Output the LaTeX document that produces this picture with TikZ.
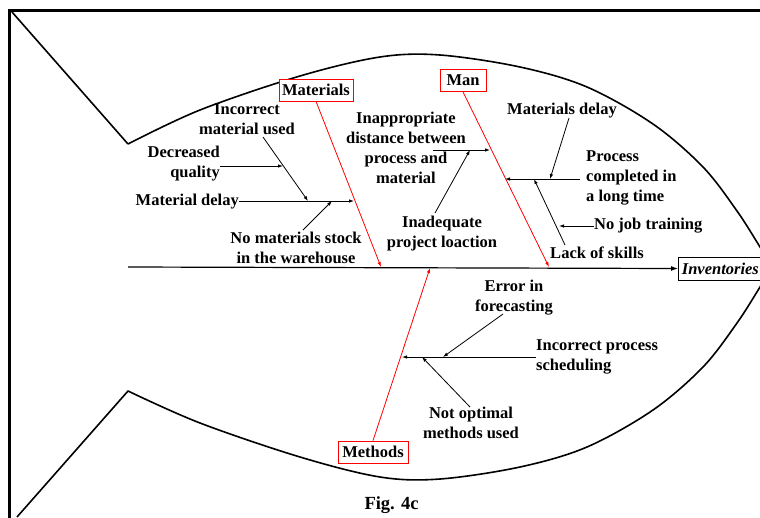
\documentclass[tikz,border=0pt]{standalone}
\usepackage{fontspec}
\setmainfont{Liberation Serif}
\usetikzlibrary{arrows.meta}
\begin{document}
\begin{tikzpicture}[x=1pt,y=-1pt,
  lbl/.style={font=\fontsize{16.5}{20}\selectfont\bfseries, inner sep=0pt, align=center},
  cat/.style={lbl, draw=red, line width=0.8pt, minimum height=22pt, fill=white},
  br/.style={line width=0.8pt, -{Latex[length=5pt,width=3.5pt]}},
  rb/.style={red, line width=0.8pt, -{Latex[length=5pt,width=3.5pt]}},
  outline/.style={line width=1.6pt, line join=round}
]
\useasboundingbox (0,0) rectangle (760,517);
\fill[white] (0,0) rectangle (760,517);
\clip (0,0) rectangle (760,517);
% frame
\draw[line width=3pt] (770,10.5) -- (9.5,10.5) -- (9.5,530);
% fish outline
\draw[outline] (12,12) -- (128,144)
  plot[smooth, tension=0.55] coordinates {(128,144) (200,110) (300,76) (380,57) (440,55) (520,67) (587,87) (653,124) (703,167) (737,211) (760,247) (772,267) (760,287) (737,323) (703,367) (653,410) (587,447) (520,467) (440,479) (380,477) (300,457) (200,423) (128,391)}
  -- (17,517);
% category boxes and effect
\node[cat, minimum width=74pt] (mat) at (316,90) {Materials};
\node[cat, minimum width=46pt] (man) at (463,80.5) {Man};
\node[cat, minimum width=70pt] (meth) at (373,452) {Methods};
\node[lbl, draw, line width=0.8pt, fill=white, anchor=west, minimum height=23pt, minimum width=84pt, font=\fontsize{16.5}{20}\selectfont\bfseries\itshape] (inv) at (678,268.5) {Inventories};
% labels
\node[lbl] (incm) at (247,119) {Incorrect\\material used};
\node[lbl, align=right, anchor=east] (decq) at (220,164) {Decreased\\quality};
\node[lbl, anchor=east] (matd) at (239,202) {Material delay};
\node[lbl] (nostock) at (296,248) {No materials stock\\in the warehouse};
\node[lbl] (inap) at (406,148) {Inappropriate\\distance between\\process and\\material};
\node[lbl] (inad) at (442,234) {Inadequate\\project loaction};
\node[lbl] (matsd) at (562,111) {Materials delay};
\node[lbl, align=left, anchor=west] (proc) at (586,178) {Process\\completed in\\a long time};
\node[lbl, anchor=west] (nojob) at (594,226) {No job training};
\node[lbl] (lack) at (597,253) {Lack of skills};
\node[lbl] (err) at (514,298) {Error in\\forecasting};
\node[lbl, align=left, anchor=west] (incp) at (536,357) {Incorrect process\\scheduling};
\node[lbl] (notopt) at (471,423) {Not optimal\\methods used};
\node[lbl, font=\fontsize{18.5}{22}\selectfont\bfseries] (fig) at (391.5,505) {Fig. 4c};
% coordinates
\coordinate (spS) at (128,267);
\coordinate (mS) at (381,267);
\coordinate (mD1) at (239,201);
\coordinate (mD) at (354,201);
\coordinate (mQ1) at (220,166);
\coordinate (mQ2) at (283,166);
\coordinate (mI1) at (263,137);
\coordinate (mI2) at (308,201);
\coordinate (mN1) at (303,230);
\coordinate (mN2) at (332,201);
\coordinate (nS) at (549,267);
\coordinate (nA1) at (433,150);
\coordinate (nA2) at (490,150);
\coordinate (nI1) at (435,213);
\coordinate (nI2) at (470,150);
\coordinate (nP1) at (580,179);
\coordinate (nP2) at (505,179);
\coordinate (nM1) at (569,118);
\coordinate (nM2) at (550,179);
\coordinate (nL1) at (565,245);
\coordinate (nL2) at (534,179);
\coordinate (nJ2) at (559,226);
\coordinate (tS) at (430,268);
\coordinate (tP1) at (536,357);
\coordinate (tP2) at (402,357);
\coordinate (tE1) at (503,314);
\coordinate (tE2) at (443,357);
\coordinate (tN1) at (470,407);
\coordinate (tN2) at (422,357);
% spine
\draw[line width=1.2pt, -{Latex[length=7pt,width=5pt]}] (spS) -- (inv.west);
% main bones
\draw[rb] (mat.south) -- (mS);
\draw[rb] (man.south) -- (nS);
\draw[rb] (meth.north) -- (tS);
% materials causes
\draw[br] (mD1) -- (mD);
\draw[br] (mQ1) -- (mQ2);
\draw[br] (mI1) -- (mI2);
\draw[br] (mN1) -- (mN2);
% man causes
\draw[br] (nA1) -- (nA2);
\draw[br] (nI1) -- (nI2);
\draw[br] (nP1) -- (nP2);
\draw[br] (nM1) -- (nM2);
\draw[br] (nL1) -- (nL2);
\draw[br] (nojob.west) -- (nJ2);
% methods causes
\draw[br] (tP1) -- (tP2);
\draw[br] (tE1) -- (tE2);
\draw[br] (tN1) -- (tN2);
\end{tikzpicture}
\end{document}
